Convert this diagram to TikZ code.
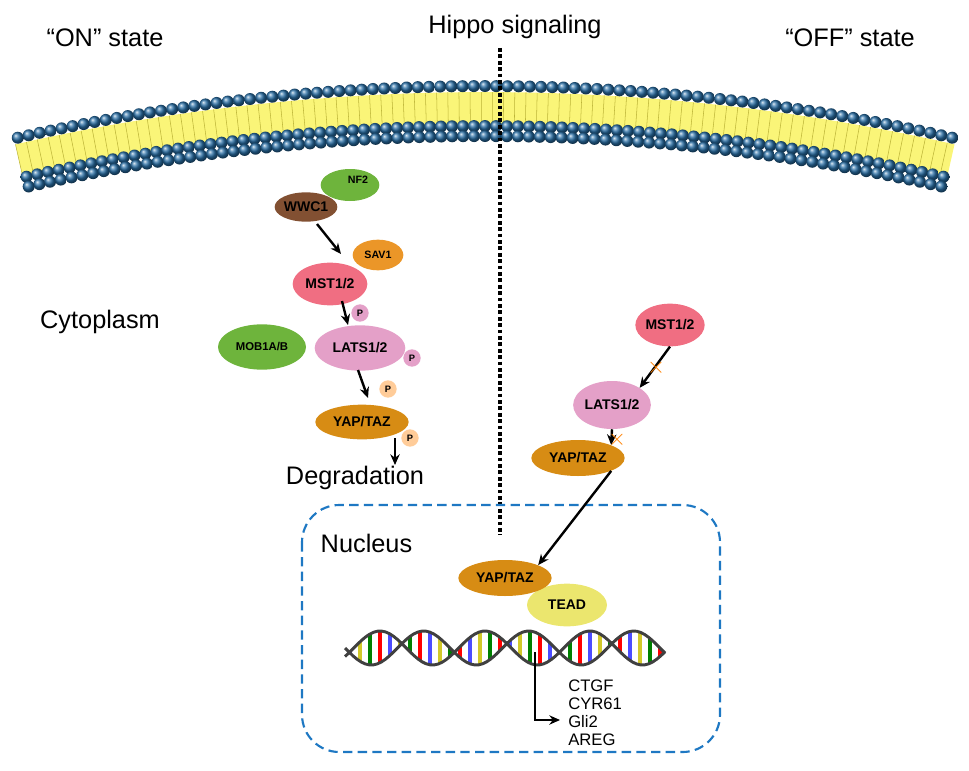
\documentclass[tikz,border=0pt]{standalone}
\usepackage{fontspec}
\setmainfont{Liberation Sans}
\usetikzlibrary{arrows.meta,shapes.geometric}
\definecolor{ballc}{RGB}{40,110,165}
\definecolor{lipid}{RGB}{250,245,120}
\definecolor{nucb}{RGB}{30,120,195}
\definecolor{yapc}{RGB}{215,140,20}
\definecolor{latsc}{RGB}{228,160,200}
\definecolor{mstc}{RGB}{240,110,130}
\definecolor{greenc}{RGB}{110,180,60}
\definecolor{brownc}{RGB}{130,80,50}
\definecolor{savc}{RGB}{235,150,40}
\definecolor{teadc}{RGB}{235,230,110}
\begin{document}
\begin{tikzpicture}[x=0.75pt,y=-0.75pt,
  big/.style={font=\fontsize{19}{22}\selectfont},
  prot/.style={ellipse,font=\bfseries\fontsize{10.5}{12}\selectfont,inner sep=0pt},
  ph/.style={circle,inner sep=0pt,minimum size=13pt,font=\bfseries\fontsize{7}{8}\selectfont},
  arr/.style={-{Stealth[length=8pt,width=7pt]},line width=1.8pt},
  xm/.style={text=orange,font=\bfseries\fontsize{18}{18}\selectfont}]
\useasboundingbox (0,0) rectangle (969,770);
% membrane
\fill[lipid] plot[domain=-12.7:12.7,samples=60] ({485+2136*sin(\x)},{2228-2136*cos(\x)}) -- plot[domain=12.7:-12.7,samples=60] ({485+2100*sin(\x)},{2228-2100*cos(\x)}) -- cycle;
\foreach \a in {-12.7,-12.4,...,12.8}{
  \draw[yellow!70!black,line width=0.4pt] ({485+2136*sin(\a)},{2228-2136*cos(\a)}) -- ({485+2100*sin(\a)},{2228-2100*cos(\a)});
}
\foreach \r in {2142,2102,2092}{
  \foreach \a in {-12.6,-12.3,...,12.7}{
    \shade[ball color=ballc] ({485+\r*sin(\a)},{2228-\r*cos(\a)}) circle (6);
  }
}
% dotted line
\draw[line width=2.8pt,dotted] (500,48) -- (500,535);
% titles
\node[big] (on) at (105,38) {“ON” state};
\node[big] (hippo) at (515,27) {Hippo signaling};
\node[big] (off) at (850,38) {“OFF” state};
\node[big] (cyto) at (100,322) {Cytoplasm};
\node[big] (deg) at (355,478) {Degradation};
% nucleus
\draw[nucb,line width=1.6pt,dash pattern=on 7pt off 4pt,rounded corners=28pt] (302,505) rectangle (720,752);
\node[big,anchor=west] (nuc) at (316,543) {Nucleus};
% left pathway
\node[prot,fill=greenc,minimum width=44pt,minimum height=24pt] (nf2) at (350,185) {};
\node[font=\bfseries\fontsize{8}{9}\selectfont] at (358,180) {NF2};
\node[prot,fill=brownc,minimum width=44pt,minimum height=22pt] (wwc1) at (306,207) {WWC1};
\node[prot,fill=savc,minimum width=38pt,minimum height=23pt,font=\bfseries\fontsize{8}{9}\selectfont] (sav1) at (378,255) {SAV1};
\node[prot,fill=mstc,minimum width=56pt,minimum height=32pt] (mstl) at (330,284) {MST1/2};
\node[ph,fill=latsc] (p1) at (360,313) {P};
\node[prot,fill=greenc,minimum width=66pt,minimum height=34pt,font=\bfseries\fontsize{8.5}{9}\selectfont] (mob) at (262,347) {MOB1A/B};
\node[prot,fill=latsc,minimum width=68pt,minimum height=34pt] (latsl) at (360,348) {LATS1/2};
\node[ph,fill=latsc] (p2) at (412,358) {P};
\node[ph,fill=orange!40] (p3) at (388,389) {P};
\node[prot,fill=yapc,minimum width=70pt,minimum height=26pt] (yapl) at (362,422) {YAP/TAZ};
\node[ph,fill=orange!40] (p4) at (410,438) {P};
\coordinate (degt) at (395,465);
\coordinate (ys) at (395,438);
\draw[arr] (317,224) -- (341,254);
\draw[arr] (342,301) -- (348,325);
\draw[arr] (358,370) -- (368,398);
\draw[arr] (ys) -- (degt);
% right pathway
\node[prot,fill=mstc,minimum width=50pt,minimum height=32pt] (mstr) at (670,325) {MST1/2};
\node[prot,fill=latsc,minimum width=58pt,minimum height=36pt] (latsr) at (612,405) {LATS1/2};
\node[prot,fill=yapc,minimum width=70pt,minimum height=27pt] (yapr) at (578,458) {YAP/TAZ};
\draw[arr] (mstr.south) -- (latsr.north east);
\node[xm] at (656,368) {$\times$};
\draw[arr] (latsr.south) -- (yapr.north east);
\node[xm] at (617,440) {$\times$};
% nucleus contents
\node[prot,fill=teadc,minimum width=60pt,minimum height=32pt] (tead) at (567,605) {TEAD};
\node[prot,fill=yapc,minimum width=70pt,minimum height=27pt] (yapn) at (505,578) {YAP/TAZ};
\draw[arr] (yapr.south east) -- (yapn.north east);
% DNA
\foreach \x [count=\i] in {350,360,...,660}{
  \pgfmathsetmacro\ya{648+17*sin((\x-345)*3.4286)}
  \pgfmathsetmacro\yb{648+17*sin((\x-345)*3.4286+150)}
  \pgfmathtruncatemacro\k{mod(\i,4)}
  \ifcase\k \def\cc{red}\or\def\cc{blue!70}\or\def\cc{yellow!80!black}\or\def\cc{green!50!black}\fi
  \draw[\cc,line width=2.6pt] (\x,\ya) -- (\x,\yb);
}
\draw[gray!50!black,line width=2.2pt] plot[domain=345:665,samples=80] (\x,{648+17*sin((\x-345)*3.4286)});
\draw[gray!50!black,line width=2.2pt] plot[domain=345:665,samples=80] (\x,{648+17*sin((\x-345)*3.4286+150)});
\node[align=left,anchor=north west,font=\fontsize{12.5}{13.5}\selectfont,inner sep=0pt] (genes) at (568,680) {CTGF\\CYR61\\Gli2\\AREG};
\coordinate (dnap) at (535,652);
\draw[arr] (dnap) |- (560,720);
\end{tikzpicture}
\end{document}
